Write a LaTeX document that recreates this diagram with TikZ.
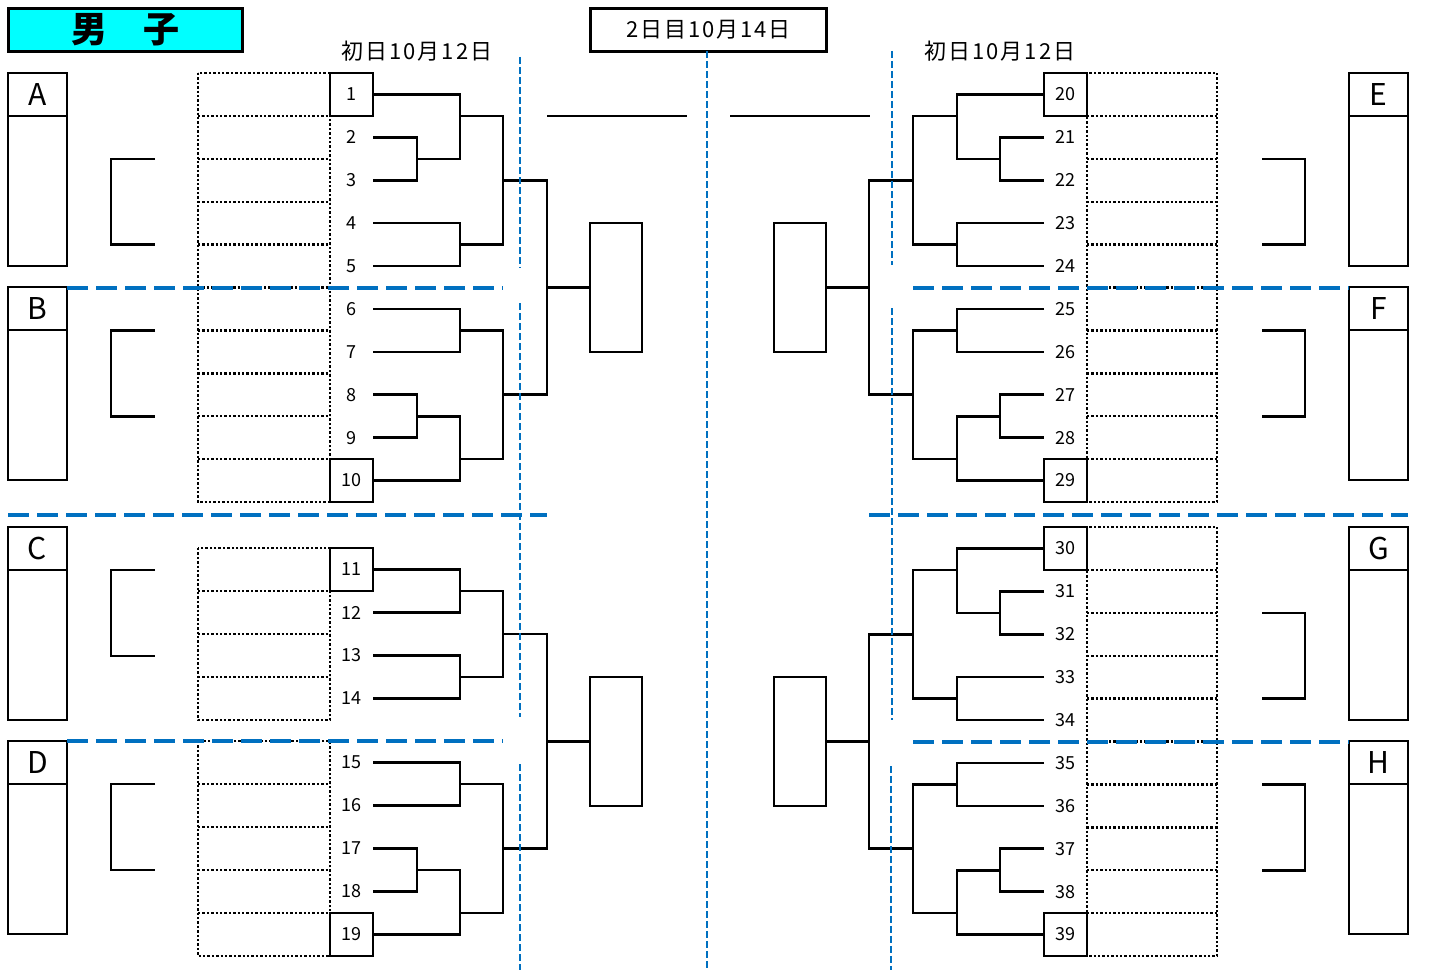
\documentclass[tikz,border=0pt]{standalone}
\usepackage{fontspec}
\setmainfont{Noto Sans CJK JP}
\usepackage{tikz}
\usetikzlibrary{positioning}
\definecolor{sepblue}{HTML}{0070C0}
\definecolor{titlecyan}{HTML}{00FFFF}

\begin{document}
\begin{tikzpicture}[
        x=1pt, y=-1pt,
        line width=2.6pt,
        num/.style={minimum width=43pt, minimum height=43pt, inner sep=0pt, outer sep=0pt, font=\fontsize{18}{20}\selectfont},
        numbox/.style={num, draw},
        grphead/.style={draw, minimum width=59pt, minimum height=43pt, inner sep=0pt, outer sep=0pt, font=\fontsize{30}{32}\selectfont},
        grpbody/.style={draw, minimum width=59pt, minimum height=150pt, inner sep=0pt, outer sep=0pt},
        finalbox/.style={draw, minimum width=52pt, minimum height=129pt, inner sep=0pt, outer sep=0pt},
        entry/.style={line width=2.4pt, dash pattern=on 2.4pt off 2pt},
        divide/.style={sepblue, line width=4pt, dash pattern=on 21pt off 8pt},
        guide/.style={sepblue, line width=2pt, dash pattern=on 7pt off 3pt},
        daylabel/.style={font=\fontsize{22}{24}\selectfont\addfontfeature{LetterSpace=9}}
    ]
        \useasboundingbox (0,0) rectangle (1444,974);

        % headings
        \node[draw, fill=titlecyan, line width=2.8pt, minimum width=234pt, minimum height=43pt, inner sep=0pt,
              font=\fontsize{36}{40}\selectfont\bfseries] (title) at (125.5,30) {男　子};
        \node[draw, line width=2.8pt, minimum width=236pt, minimum height=43pt, inner sep=0pt, daylabel] (day2) at (708.5,30) {2日目10月14日};
        \node[daylabel] (day1L) at (417,51.5) {初日10月12日};
        \node[daylabel] (day1R) at (1000,51.5) {初日10月12日};

        % entry rows (dotted)
        \draw[entry] (198,73) rectangle (330,502);
        \draw[entry] (198,115.9) -- (330,115.9) (198,158.8) -- (330,158.8) (198,201.7) -- (330,201.7)
                     (198,244.6) -- (330,244.6) (198,287.5) -- (330,287.5) (198,330.4) -- (330,330.4)
                     (198,373.3) -- (330,373.3) (198,416.2) -- (330,416.2) (198,459.1) -- (330,459.1);
        \draw[entry] (198,548) rectangle (330,720);
        \draw[entry] (198,591) -- (330,591) (198,634) -- (330,634) (198,677) -- (330,677);
        \draw[entry] (198,741) rectangle (330,956);
        \draw[entry] (198,784) -- (330,784) (198,827) -- (330,827) (198,870) -- (330,870) (198,913) -- (330,913);
        \draw[entry] (1087,73) rectangle (1217,502);
        \draw[entry] (1087,115.9) -- (1217,115.9) (1087,158.8) -- (1217,158.8) (1087,201.7) -- (1217,201.7)
                     (1087,244.6) -- (1217,244.6) (1087,287.5) -- (1217,287.5) (1087,330.4) -- (1217,330.4)
                     (1087,373.3) -- (1217,373.3) (1087,416.2) -- (1217,416.2) (1087,459.1) -- (1217,459.1);
        \draw[entry] (1087,527) rectangle (1217,956);
        \draw[entry] (1087,569.9) -- (1217,569.9) (1087,612.8) -- (1217,612.8) (1087,655.7) -- (1217,655.7)
                     (1087,698.6) -- (1217,698.6) (1087,741.5) -- (1217,741.5) (1087,784.4) -- (1217,784.4)
                     (1087,827.3) -- (1217,827.3) (1087,870.2) -- (1217,870.2) (1087,913.1) -- (1217,913.1);

        % group boxes
        \node[grphead] (gA) at (37.5,94.5) {A};
        \node[grpbody, below=0pt of gA] (gAbody) {};
        \node[grphead] (gB) at (37.5,308.5) {B};
        \node[grpbody, below=0pt of gB] (gBbody) {};
        \node[grphead] (gC) at (37.5,548.5) {C};
        \node[grpbody, below=0pt of gC] (gCbody) {};
        \node[grphead] (gD) at (37.5,762.5) {D};
        \node[grpbody, below=0pt of gD] (gDbody) {};
        \node[grphead] (gE) at (1378.5,94.5) {E};
        \node[grpbody, below=0pt of gE] (gEbody) {};
        \node[grphead] (gF) at (1378.5,308.5) {F};
        \node[grpbody, below=0pt of gF] (gFbody) {};
        \node[grphead] (gG) at (1378.5,548.5) {G};
        \node[grpbody, below=0pt of gG] (gGbody) {};
        \node[grphead] (gH) at (1378.5,762.5) {H};
        \node[grpbody, below=0pt of gH] (gHbody) {};

        % small brackets
        \draw (155,158.8) -| (111,244.6) -- (155,244.6);
        \draw (155,330.4) -| (111,416.2) -- (155,416.2);
        \draw (155,570) -| (111,656) -- (155,656);
        \draw (155,784) -| (111,870) -- (155,870);
        \draw (1262,158.8) -| (1305,244.6) -- (1262,244.6);
        \draw (1262,330.4) -| (1305,416.2) -- (1262,416.2);
        \draw (1262,612.8) -| (1305,698.6) -- (1262,698.6);
        \draw (1262,784.4) -| (1305,870.2) -- (1262,870.2);

        % final boxes
        \node[finalbox] (s1) at (616,287.5) {};
        \node[finalbox] (s2) at (800,287.5) {};
        \node[finalbox] (s3) at (616,741.5) {};
        \node[finalbox] (s4) at (800,741.5) {};

        % entry numbers, left
        \node[numbox] (n1) at (351.5,94.45) {1};
        \node[num] (n2) at (351.5,137.35) {2};
        \node[num] (n3) at (351.5,180.25) {3};
        \node[num] (n4) at (351.5,223.15) {4};
        \node[num] (n5) at (351.5,266.05) {5};
        \node[num] (n6) at (351.5,308.95) {6};
        \node[num] (n7) at (351.5,351.85) {7};
        \node[num] (n8) at (351.5,394.75) {8};
        \node[num] (n9) at (351.5,437.65) {9};
        \node[numbox] (n10) at (351.5,480.55) {10};
        \node[numbox] (n11) at (351.5,569.5) {11};
        \node[num] (n12) at (351.5,612.5) {12};
        \node[num] (n13) at (351.5,655.5) {13};
        \node[num] (n14) at (351.5,698.5) {14};
        \node[num] (n15) at (351.5,762.5) {15};
        \node[num] (n16) at (351.5,805.5) {16};
        \node[num] (n17) at (351.5,848.5) {17};
        \node[num] (n18) at (351.5,891.5) {18};
        \node[numbox] (n19) at (351.5,934.5) {19};

        % entry numbers, right
        \node[numbox] (n20) at (1065.5,94.45) {20};
        \node[num] (n21) at (1065.5,137.35) {21};
        \node[num] (n22) at (1065.5,180.25) {22};
        \node[num] (n23) at (1065.5,223.15) {23};
        \node[num] (n24) at (1065.5,266.05) {24};
        \node[num] (n25) at (1065.5,308.95) {25};
        \node[num] (n26) at (1065.5,351.85) {26};
        \node[num] (n27) at (1065.5,394.75) {27};
        \node[num] (n28) at (1065.5,437.65) {28};
        \node[numbox] (n29) at (1065.5,480.55) {29};
        \node[numbox] (n30) at (1065.5,548.45) {30};
        \node[num] (n31) at (1065.5,591.35) {31};
        \node[num] (n32) at (1065.5,634.25) {32};
        \node[num] (n33) at (1065.5,677.15) {33};
        \node[num] (n34) at (1065.5,720.05) {34};
        \node[num] (n35) at (1065.5,762.95) {35};
        \node[num] (n36) at (1065.5,805.85) {36};
        \node[num] (n37) at (1065.5,848.75) {37};
        \node[num] (n38) at (1065.5,891.65) {38};
        \node[numbox] (n39) at (1065.5,934.55) {39};

        % join points
        \coordinate (a23) at (417,158.8);
        \coordinate (a1) at (460,115.9);
        \coordinate (a45) at (460,244.6);
        \coordinate (aA) at (503,180.25);
        \coordinate (a67) at (460,330.4);
        \coordinate (a89) at (417,416.2);
        \coordinate (a10) at (460,459.1);
        \coordinate (aB) at (503,394.75);
        \coordinate (aAB) at (547,287.5);
        \coordinate (c1112) at (460,591);
        \coordinate (c1314) at (460,677);
        \coordinate (cC) at (503,634);
        \coordinate (d1516) at (460,784);
        \coordinate (d1718) at (417,870);
        \coordinate (d19) at (460,913);
        \coordinate (dD) at (503,848.5);
        \coordinate (cCD) at (547,741.5);
        \coordinate (b2122) at (1000,158.8);
        \coordinate (b20) at (957,115.9);
        \coordinate (b2324) at (957,244.6);
        \coordinate (bE) at (913,180.25);
        \coordinate (b2526) at (957,330.4);
        \coordinate (b2728) at (1000,416.2);
        \coordinate (b29) at (957,459.1);
        \coordinate (bF) at (913,394.75);
        \coordinate (bEF) at (869,287.5);
        \coordinate (g3132) at (1000,612.8);
        \coordinate (g30) at (957,569.9);
        \coordinate (g3334) at (957,698.6);
        \coordinate (gGj) at (913,634.25);
        \coordinate (h3536) at (957,784.4);
        \coordinate (h3738) at (1000,870.2);
        \coordinate (h39) at (957,913.1);
        \coordinate (hHj) at (913,848.75);
        \coordinate (gGH) at (869,741.5);
        \coordinate (topL1) at (547,116);
        \coordinate (topL2) at (687,116);
        \coordinate (topR1) at (730,116);
        \coordinate (topR2) at (870,116);

        % bracket, left
        \draw (n2.east) -| (a23) |- (n3.east);
        \draw (n1.east) -| (a1) |- (a23);
        \draw (n4.east) -| (a45) |- (n5.east);
        \draw (a1) -| (aA) |- (a45);
        \draw (n6.east) -| (a67) |- (n7.east);
        \draw (n8.east) -| (a89) |- (n9.east);
        \draw (a89) -| (a10) |- (n10.east);
        \draw (a67) -| (aB) |- (a10);
        \draw (aA) -| (aAB) |- (aB);
        \draw (aAB) -- (s1.west);
        \draw (n11.east) -| (c1112) |- (n12.east);
        \draw (n13.east) -| (c1314) |- (n14.east);
        \draw (c1112) -| (cC) |- (c1314);
        \draw (n15.east) -| (d1516) |- (n16.east);
        \draw (n17.east) -| (d1718) |- (n18.east);
        \draw (d1718) -| (d19) |- (n19.east);
        \draw (d1516) -| (dD) |- (d19);
        \draw (cC) -| (cCD) |- (dD);
        \draw (cCD) -- (s3.west);

        % bracket, right
        \draw (n21.west) -| (b2122) |- (n22.west);
        \draw (n20.west) -| (b20) |- (b2122);
        \draw (n23.west) -| (b2324) |- (n24.west);
        \draw (b20) -| (bE) |- (b2324);
        \draw (n25.west) -| (b2526) |- (n26.west);
        \draw (n27.west) -| (b2728) |- (n28.west);
        \draw (b2728) -| (b29) |- (n29.west);
        \draw (b2526) -| (bF) |- (b29);
        \draw (bE) -| (bEF) |- (bF);
        \draw (bEF) -- (s2.east);
        \draw (n31.west) -| (g3132) |- (n32.west);
        \draw (n30.west) -| (g30) |- (g3132);
        \draw (n33.west) -| (g3334) |- (n34.west);
        \draw (g30) -| (gGj) |- (g3334);
        \draw (n35.west) -| (h3536) |- (n36.west);
        \draw (n37.west) -| (h3738) |- (n38.west);
        \draw (h3738) -| (h39) |- (n39.west);
        \draw (h3536) -| (hHj) |- (h39);
        \draw (gGj) -| (gGH) |- (hHj);
        \draw (gGH) -- (s4.east);

        \draw (topL1) -- (topL2);
        \draw (topR1) -- (topR2);

        % blue separators
        \draw[divide] (67,287.5) -- (503,287.5);
        \draw[divide] (8,515) -- (547,515);
        \draw[divide] (67,741) -- (503,741);
        \draw[divide] (913,287.5) -- (1349,287.5);
        \draw[divide] (869,515) -- (1408,515);
        \draw[divide] (913,741.5) -- (1349,741.5);
        \draw[guide] (520,57) -- (520,268) (520,303) -- (520,717) (520,764) -- (520,970);
        \draw[guide] (707,51) -- (707,970);
        \draw[guide] (892,51) -- (892,265) (892,308) -- (892,720) (891,766) -- (891,970);
    \end{tikzpicture}
\end{document}
